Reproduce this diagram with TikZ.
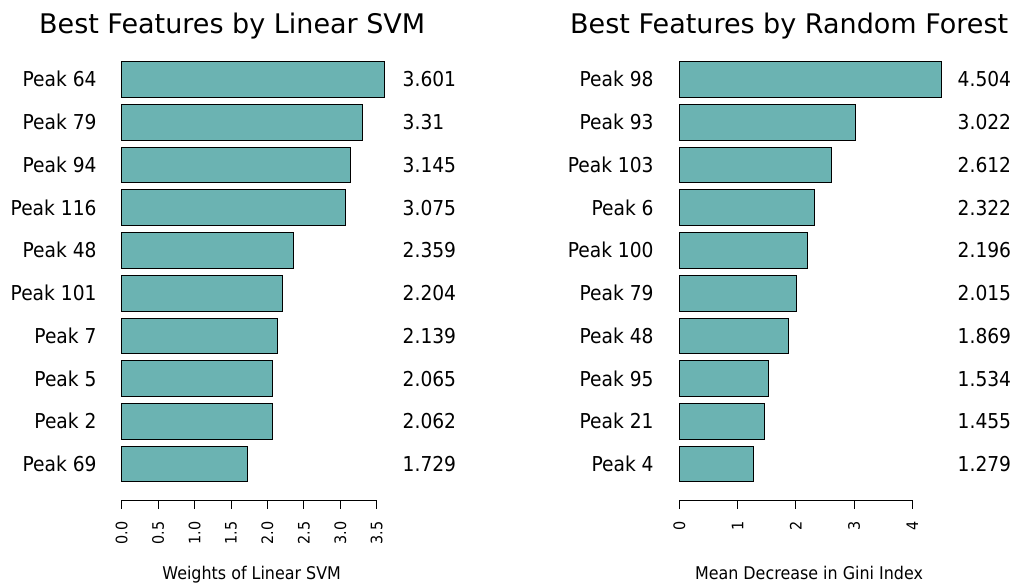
\documentclass[tikz,border=0pt]{standalone}
\usepackage{fontspec}
\setmainfont{DejaVu Sans}
\newfontfamily\narrowfont[FakeStretch=0.91]{DejaVu Sans}
\definecolor{barfill}{RGB}{107,179,178}
\begin{document}
\begin{tikzpicture}[x=1pt,y=-1pt,
  bar/.style={draw=black, fill=barfill, line width=0.8pt},
  axisline/.style={draw=black, line width=0.8pt},
  charttitle/.style={font=\fontsize{27}{30}\selectfont, anchor=base, inner sep=0pt},
  rowlabel/.style={font=\narrowfont\fontsize{20.5}{24}\selectfont, anchor=base east, inner sep=0pt},
  valuelabel/.style={font=\narrowfont\fontsize{20.5}{24}\selectfont, anchor=base west, inner sep=0pt},
  ticklabel/.style={font=\narrowfont\fontsize{15.8}{18}\selectfont, anchor=east, rotate=90, inner sep=0pt},
  axistitle/.style={font=\narrowfont\fontsize{17.5}{20}\selectfont, anchor=base, inner sep=0pt}]
\useasboundingbox (0,0) rectangle (1016,585);

% ---------- left chart: Linear SVM ----------
\node[charttitle] (svm-title) at (232.2,33.2) {Best Features by Linear SVM};
\foreach \v/\lab [count=\i from 0] in
  {3.601/64, 3.31/79, 3.145/94, 3.075/116, 2.359/48,
   2.204/101, 2.139/7, 2.065/5, 2.062/2, 1.729/69}{
  \pgfmathsetmacro{\top}{61.7+42.73*\i}
  \pgfmathsetmacro{\mid}{\top+17.8}
  \draw[bar] (121.7,\top) rectangle (121.7+\v*72.86,\top+35.6);
  \node[rowlabel] (svm-lab-\i) at (96.7,\mid+7.4) {Peak \lab};
  \node[valuelabel] (svm-val-\i) at (402.5,\mid+7.4) {\v};
}
\draw[axisline] (121.7,500) -- (376.7,500);
\foreach \t [count=\k from 0] in {0.0,0.5,1.0,1.5,2.0,2.5,3.0,3.5}{
  \draw[axisline] (121.7+\k*36.43,500) -- (121.7+\k*36.43,509.3);
  \node[ticklabel] (svm-tick-\k) at (121.7+\k*36.43,521.5) {\t};
}
\node[axistitle] (svm-axis) at (251.7,579.5) {Weights of Linear SVM};

% ---------- right chart: Random Forest ----------
\node[charttitle] (rf-title) at (789.2,33.2) {Best Features by Random Forest};
\foreach \v/\lab [count=\i from 0] in
  {4.504/98, 3.022/93, 2.612/103, 2.322/6, 2.196/100,
   2.015/79, 1.869/48, 1.534/95, 1.455/21, 1.279/4}{
  \pgfmathsetmacro{\top}{61.7+42.73*\i}
  \pgfmathsetmacro{\mid}{\top+17.8}
  \draw[bar] (679.3,\top) rectangle (679.3+\v*58.25,\top+35.6);
  \node[rowlabel] (rf-lab-\i) at (653.8,\mid+7.4) {Peak \lab};
  \node[valuelabel] (rf-val-\i) at (957.5,\mid+7.4) {\v};
}
\draw[axisline] (679.3,500) -- (912.3,500);
\foreach \t in {0,1,2,3,4}{
  \draw[axisline] (679.3+\t*58.25,500) -- (679.3+\t*58.25,509.3);
  \node[ticklabel] (rf-tick-\t) at (679.3+\t*58.25,521.5) {\t};
}
\node[axistitle] (rf-axis) at (809,579.5) {Mean Decrease in Gini Index};
\end{tikzpicture}
\end{document}
